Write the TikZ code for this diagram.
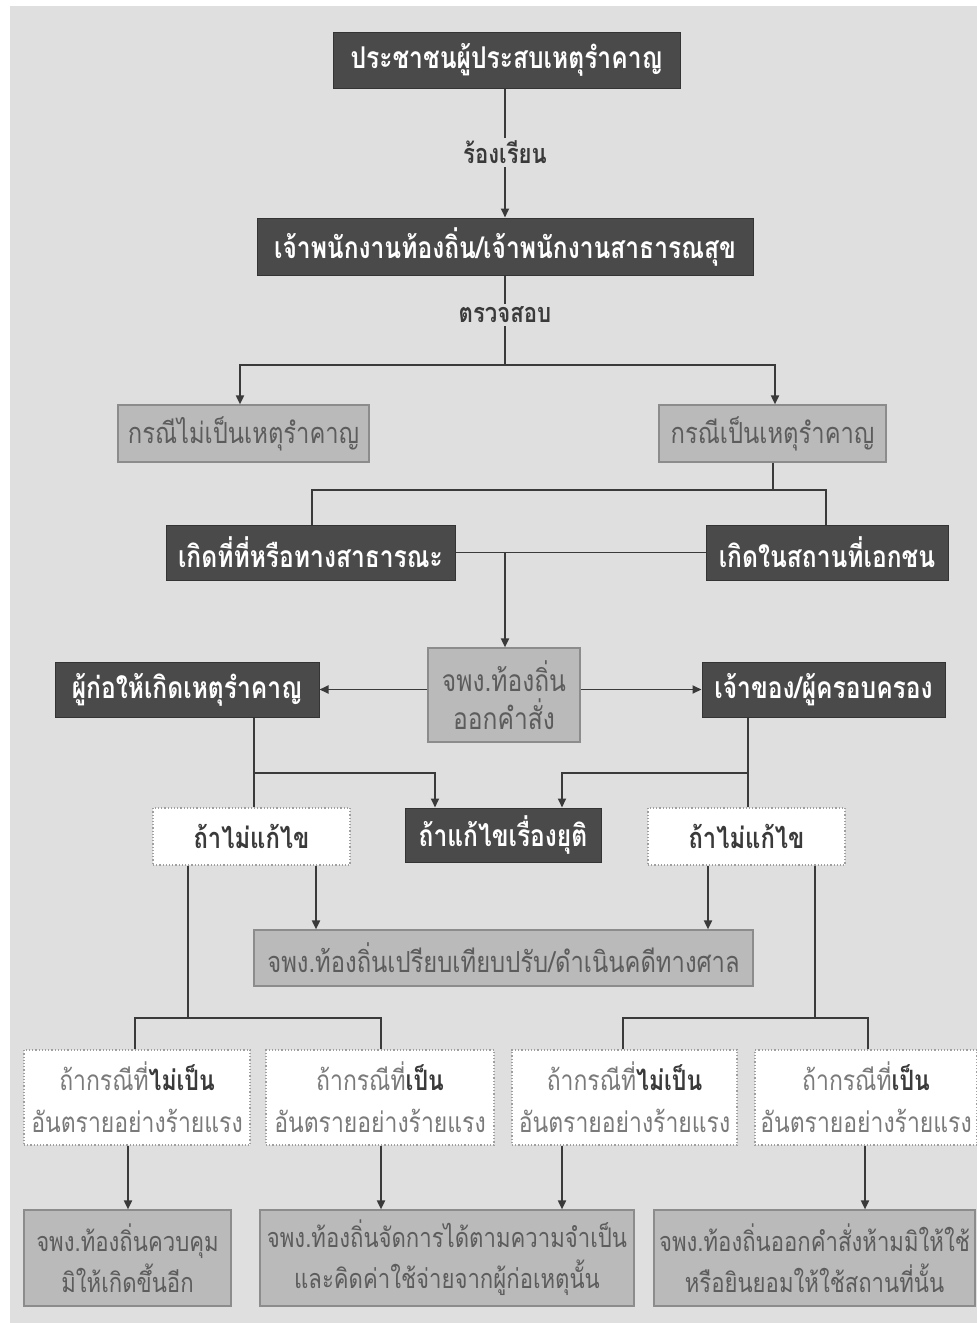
\documentclass[tikz,border=0pt]{standalone}
\usepackage{fontspec}
\newfontfamily\thaic[Script=Thai,FakeStretch=0.82]{Loma}
\usetikzlibrary{arrows.meta}
\definecolor{bg}{HTML}{DFDFDF}
\definecolor{darkbox}{HTML}{4A4A4A}
\definecolor{graybox}{HTML}{BABABA}
\definecolor{grayline}{HTML}{8C8C8C}
\definecolor{graytext}{HTML}{5C5C5C}
\definecolor{dottext}{HTML}{7A7A7A}
\definecolor{linec}{HTML}{3A3A3A}
\begin{document}
\begin{tikzpicture}[x=1pt,y=-1pt,
  base/.style={inner sep=0pt, align=center},
  darkb/.style={base, fill=darkbox, draw=darkbox!70!black, line width=1pt, text=white,
     font=\thaic\bfseries\fontsize{30}{34}\selectfont},
  grayb/.style={base, fill=graybox, draw=grayline, line width=1.2pt, text=graytext,
     font=\thaic\fontsize{29}{38}\selectfont},
  grayc/.style={grayb, font=\thaic\fontsize{27}{41}\selectfont},
  dotb/.style={base, fill=white, draw=gray!75, dotted, line width=1.2pt, text=dottext,
     font=\thaic\fontsize{28}{42}\selectfont},
  dotk/.style={dotb, text=linec, font=\thaic\bfseries\fontsize{29}{32}\selectfont},
  lbl/.style={fill=bg, inner sep=3pt, text=linec, font=\thaic\bfseries\fontsize{27}{30}\selectfont},
  conn/.style={draw=linec, line width=1.8pt},
  arr/.style={conn, -{Triangle[length=9pt,width=8pt]}}
]
\useasboundingbox (0,0) rectangle (977,1323);
\fill[white] (0,0) rectangle (977,1323);
\fill[bg] (10,6) rectangle (977,1323);

% boxes
\node[darkb, minimum width=347, minimum height=56] (top) at (506.5,60) {ประชาชนผู้ประสบเหตุรำคาญ};
\node[darkb, minimum width=496, minimum height=57] (off) at (505,246.5) {เจ้าพนักงานท้องถิ่น/เจ้าพนักงานสาธารณสุข};
\node[grayb, minimum width=251, minimum height=57] (notn) at (243.5,433.5) {กรณีไม่เป็นเหตุรำคาญ};
\node[grayb, minimum width=227, minimum height=57] (isn) at (772.5,433.5) {กรณีเป็นเหตุรำคาญ};
\node[darkb, minimum width=289, minimum height=55] (pub) at (310.5,552.5) {เกิดที่ที่หรือทางสาธารณะ};
\node[darkb, minimum width=242, minimum height=55] (priv) at (827,552.5) {เกิดในสถานที่เอกชน};
\node[grayb, minimum width=152, minimum height=94, font=\thaic\fontsize{30}{38}\selectfont] (order) at (504,695) {จพง.ท้องถิ่น\\ออกคำสั่ง};
\node[darkb, minimum width=264, minimum height=55] (cause) at (187,689.5) {ผู้ก่อให้เกิดเหตุรำคาญ};
\node[darkb, minimum width=243, minimum height=55] (owner) at (823.5,689.5) {เจ้าของ/ผู้ครอบครอง};
\node[dotk, minimum width=197, minimum height=57] (nfixL) at (251.5,836.5) {ถ้าไม่แก้ไข};
\node[darkb, minimum width=196, minimum height=54] (fixed) at (503,835) {ถ้าแก้ไขเรื่องยุติ};
\node[dotk, minimum width=197, minimum height=57] (nfixR) at (746.5,836.5) {ถ้าไม่แก้ไข};
\node[grayb, minimum width=499, minimum height=56] (fine) at (503.5,958) {จพง.ท้องถิ่นเปรียบเทียบปรับ/ดำเนินคดีทางศาล};
\node[dotb, minimum width=226, minimum height=95] (A) at (137,1097.5) {ถ้ากรณีที่{\color{linec}\bfseries ไม่เป็น}\\อันตรายอย่างร้ายแรง};
\node[dotb, minimum width=228, minimum height=95] (B) at (380,1097.5) {ถ้ากรณีที่{\color{linec}\bfseries เป็น}\\อันตรายอย่างร้ายแรง};
\node[dotb, minimum width=225, minimum height=95] (C) at (624.5,1097.5) {ถ้ากรณีที่{\color{linec}\bfseries ไม่เป็น}\\อันตรายอย่างร้ายแรง};
\node[dotb, minimum width=222, minimum height=95] (D) at (866,1097.5) {ถ้ากรณีที่{\color{linec}\bfseries เป็น}\\อันตรายอย่างร้ายแรง};
\node[grayc, minimum width=207, minimum height=96] (E) at (127.5,1258) {จพง.ท้องถิ่นควบคุม\\มิให้เกิดขึ้นอีก};
\node[grayc, minimum width=374, minimum height=96] (F) at (447,1258) {จพง.ท้องถิ่นจัดการได้ตามความจำเป็น\\และคิดค่าใช้จ่ายจากผู้ก่อเหตุนั้น};
\node[grayc, minimum width=321, minimum height=96] (G) at (814.5,1258) {จพง.ท้องถิ่นออกคำสั่งห้ามมิให้ใช้\\หรือยินยอมให้ใช้สถานที่นั้น};

% connectors
\draw[arr] (top.south -| 505,0) -- (off.north -| 505,0);
\node[lbl] (l1) at (505,152) {ร้องเรียน};
\coordinate (s1) at (505,365);
\draw[conn] (off.south -| 505,0) -- (s1);
\node[lbl] (l2) at (505,315) {ตรวจสอบ};
\draw[arr] (s1) -| (notn.north -| 240,0);
\draw[arr] (s1) -| (isn.north -| 775,0);

\coordinate (s2) at (773,490);
\draw[conn] (isn.south -| s2) -- (s2);
\draw[conn] (pub.north -| 312,0) |- (s2) -| (priv.north -| 826,0);
\draw[conn] (pub.east) -- (priv.west);
\coordinate (s3) at (505,552.5);
\draw[arr] (s3) -- (order.north -| s3);
\draw[arr] (order.west |- cause.east) -- (cause.east);
\draw[arr] (order.east |- owner.west) -- (owner.west);

\coordinate (s4) at (254,773);
\draw[conn] (cause.south -| s4) -- (nfixL.north -| s4);
\draw[arr] (s4) -| (fixed.north -| 435,0);
\coordinate (s5) at (748,773);
\draw[conn] (owner.south -| s5) -- (nfixR.north -| s5);
\draw[arr] (s5) -| (fixed.north -| 562,0);

\draw[arr] (nfixL.south -| 316,0) -- (fine.north -| 316,0);
\draw[arr] (nfixR.south -| 708,0) -- (fine.north -| 708,0);
\coordinate (s6) at (188,1018);
\draw[conn] (nfixL.south -| s6) -- (s6);
\draw[conn] (A.north -| 135,0) |- (s6) -| (B.north -| 381,0);
\coordinate (s7) at (815,1018);
\draw[conn] (nfixR.south -| s7) -- (s7);
\draw[conn] (C.north -| 623,0) |- (s7) -| (D.north -| 868,0);

\draw[arr] (A.south -| 128,0) -- (E.north -| 128,0);
\draw[arr] (B.south -| 381,0) -- (F.north -| 381,0);
\draw[arr] (C.south -| 562,0) -- (F.north -| 562,0);
\draw[arr] (D.south -| 865,0) -- (G.north -| 865,0);
\end{tikzpicture}
\end{document}
